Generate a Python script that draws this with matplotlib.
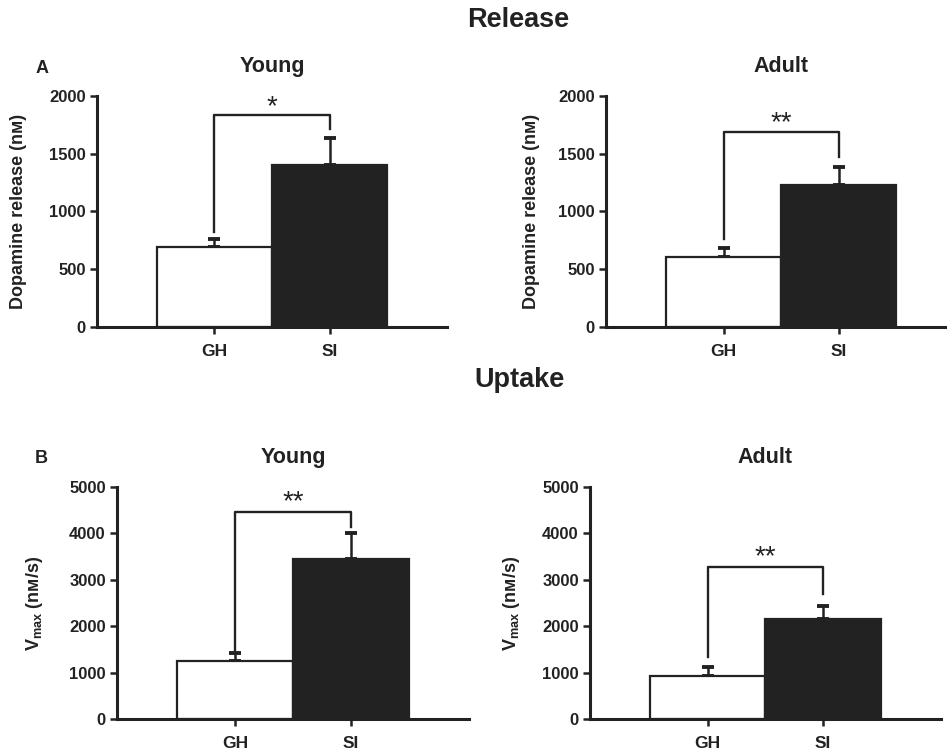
import matplotlib
matplotlib.use("Agg")
import matplotlib.pyplot as plt

plt.rcParams['font.family'] = ['Liberation Sans', 'DejaVu Sans']
plt.rcParams['font.weight'] = 'bold'
plt.rcParams['axes.labelweight'] = 'bold'
plt.rcParams['mathtext.fontset'] = 'custom'
plt.rcParams['mathtext.rm'] = 'Liberation Sans:bold'
plt.rcParams['mathtext.default'] = 'regular'
plt.rcParams['mathtext.fallback'] = 'stixsans'

groups = ['GH', 'SI']

# release (nM)
release_young = [690, 1400]
release_young_err = [70, 235]
release_adult = [610, 1230]
release_adult_err = [75, 155]

# uptake Vmax (nM/s)
uptake_young = [1250, 3450]
uptake_young_err = [170, 560]
uptake_adult = [930, 2160]
uptake_adult_err = [190, 280]

# significance bracket: bar height, left leg end, right leg end, star y, label
sig_release_young = [1835, 820, 1714, 1900, '*']
sig_release_adult = [1688, 762, 1472, 1765, '**']
sig_uptake_young = [4461, 1487, 4138, 4680, '**']
sig_uptake_adult = [3276, 1336, 2694, 3490, '**']

dark = '#222222'
fig = plt.figure(figsize=(9.47, 7.56), dpi=100)

def panel(rect, vals, errs, sig, ymax, step, title, ylabel, lab_x):
    ax = fig.add_axes(rect)
    x = [0, 1]
    ax.bar(x, vals, width=1.0, color=['white', dark], edgecolor=dark,
           linewidth=1.6, zorder=2)
    ax.errorbar(x, vals, yerr=[[0, 0], errs], fmt='none', ecolor=dark,
                elinewidth=1.8, capsize=4, capthick=2.8, zorder=1)
    h, l, r, sy, star = sig
    ax.plot([0, 0, 1, 1], [l, h, h, r], color=dark, lw=1.7, zorder=3)
    ax.text(0.5, sy, star, ha='center', va='center', fontsize=20,
            fontweight='normal', color=dark)
    ax.set_xlim(-1.02, 2.02)
    ax.set_ylim(0, ymax)
    ax.set_yticks(range(0, ymax + 1, step))
    ax.set_xticks(x)
    ax.set_xticklabels(groups, fontsize=12.5)
    ax.tick_params(axis='y', labelsize=12, length=5, width=1.8, pad=3,
                   colors=dark)
    ax.tick_params(axis='x', length=5, width=1.8, pad=7, colors=dark)
    for s in ['top', 'right']:
        ax.spines[s].set_visible(False)
    for s in ['left', 'bottom']:
        ax.spines[s].set_linewidth(2.2)
        ax.spines[s].set_color(dark)
    ax.set_ylabel(ylabel, fontsize=13, color=dark)
    ax.yaxis.set_label_coords(lab_x, 0.5)
    ax.text(0.5, 1.105, title, transform=ax.transAxes, ha='center',
            va='baseline', fontsize=15.5, color=dark)
    ax.margins(0)
    return ax

lab_rel = 'Dopamine release (nᴍ)'
lab_upt = r'V$_{\mathregular{max}}$ (nᴍ/s)'

panel([0.1024, 0.5675, 0.3696, 0.3056], release_young, release_young_err,
      sig_release_young, 2000, 500, 'Young', lab_rel, -0.2)
panel([0.640, 0.5675, 0.3696, 0.3056], release_adult, release_adult_err,
      sig_release_adult, 2000, 500, 'Adult', lab_rel, -0.189)
panel([0.1235, 0.0489, 0.3717, 0.3069], uptake_young, uptake_young_err,
      sig_uptake_young, 5000, 1000, 'Young', lab_upt, -0.205)
panel([0.623, 0.0489, 0.3706, 0.3069], uptake_adult, uptake_adult_err,
      sig_uptake_adult, 5000, 1000, 'Adult', lab_upt, -0.194)

fig.text(0.547, 0.974, 'Release', ha='center', va='center', fontsize=19.5,
         color=dark)
fig.text(0.549, 0.497, 'Uptake', ha='center', va='center', fontsize=19.5,
         color=dark)
fig.text(0.044, 0.910, 'A', ha='center', va='center', fontsize=13,
         color=dark)
fig.text(0.044, 0.393, 'B', ha='center', va='center', fontsize=13,
         color=dark)

fig.savefig('out.png', dpi=100)
